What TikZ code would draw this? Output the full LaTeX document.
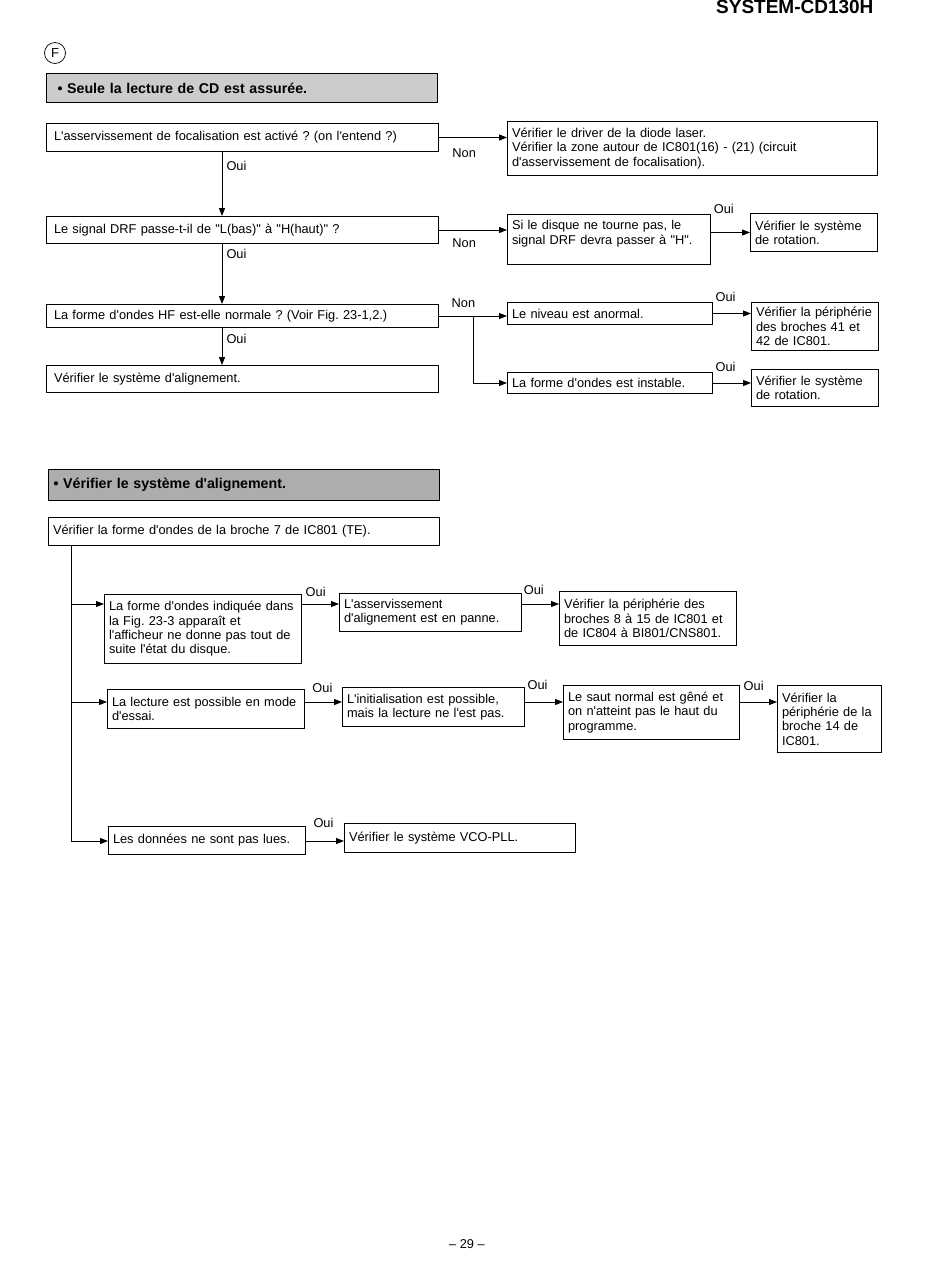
\documentclass[tikz,border=0pt]{standalone}
\usepackage{fontspec}
\setmainfont{Liberation Sans}[Ligatures=TeXOff]
\usetikzlibrary{arrows.meta,positioning}
\frenchspacing

\begin{document}
\begin{tikzpicture}[
   x=1pt, y=-1pt, font=\fontsize{12.8}{14.3}\selectfont,
   box/.style={draw, line width=1pt, anchor=north west, align=left, inner xsep=4.5pt, inner ysep=2pt},
   qbox/.style={box, inner xsep=7.5pt},
   head/.style={box, fill=black!20, font=\fontsize{14.2}{16}\selectfont\bfseries},
   arr/.style={-{Triangle[length=8pt,width=6pt]}, line width=1pt},
   wire/.style={line width=1pt},
   lbl/.style={inner sep=1pt}]

  \useasboundingbox (0,0) rectangle (950,1278);

  \node[anchor=base east, font=\fontsize{19}{20}\selectfont\bfseries] (model) at (877,13.5) {SYSTEM-CD130H};
  \node[circle, draw, line width=0.7pt, minimum size=21pt, inner sep=0pt, font=\fontsize{13}{14}\selectfont] (secF) at (55,53) {F};

  % Seule la lecture de CD
  \node[head, text width=369pt, inner xsep=11pt, minimum height=29pt] (hd1) at (46,73) {• Seule la lecture de CD est assurée.};

  \node[qbox, text width=377pt, minimum height=28pt] (q1) at (46,123) {L'asservissement de focalisation est activé ? (on l'entend ?)};
  \node[qbox, text width=377pt, minimum height=27pt] (q2) at (46,216) {Le signal DRF passe-t-il de "L(bas)" à "H(haut)" ?};
  \node[qbox, text width=377pt, minimum height=23pt] (q3) at (46,304) {La forme d'ondes HF est-elle normale ? (Voir Fig. 23-1,2.)};
  \node[qbox, text width=377pt, minimum height=27pt] (q4) at (46,365) {Vérifier le système d'alignement.};

  \node[box, text width=361pt, minimum height=54pt] (a1) at (507,121) {Vérifier le driver de la diode laser.\\Vérifier la zone autour de IC801(16) - (21) (circuit\\d'asservissement de focalisation).};
  \node[box, text width=194pt, minimum height=50pt] (a2) at (507,214) {Si le disque ne tourne pas, le\\signal DRF devra passer à "H".\\\mbox{}};
  \node[box, text width=118pt, minimum height=38pt] (a3) at (750,213) {Vérifier le système\\de rotation.};
  \node[box, text width=196pt, minimum height=22pt] (a4) at (507,302) {Le niveau est anormal.};
  \node[box, text width=196pt, minimum height=21pt] (a5) at (507,372) {La forme d'ondes est instable.};
  \node[box, text width=118pt, minimum height=48pt] (a6) at (751,302) {Vérifier la périphérie\\des broches 41 et\\42 de IC801.};
  \node[box, text width=118pt, minimum height=37pt] (a7) at (751,369) {Vérifier le système\\de rotation.};

  \coordinate (spine) at (222,0);
  \coordinate (fork) at (473,0);
  \draw[arr] (q1.east) -- (q1.east -| a1.west) node[lbl, below=10pt, pos=.37] {Non};
  \draw[arr] (q1.south -| spine) -- (q2.north -| spine) node[lbl, right=3pt, pos=.22] {Oui};
  \draw[arr] (q2.east) -- (q2.east -| a2.west) node[lbl, below=7pt, pos=.37] {Non};
  \draw[arr] (a3.west -| a2.east) -- (a3.west) node[lbl, above=17pt, pos=.33] {Oui};
  \draw[arr] (q2.south -| spine) -- (q3.north -| spine) node[lbl, right=3pt, pos=.16] {Oui};
  \draw[arr] (q3.east) -- (q3.east -| a4.west) node[lbl, above=7pt, pos=.36] {Non};
  \draw[arr] (q3.east -| fork) |- (a5.west);
  \draw[arr] (a4.east) -- (a4.east -| a6.west) node[lbl, above=10pt, pos=.33] {Oui};
  \draw[arr] (a5.east) -- (a5.east -| a7.west) node[lbl, above=10pt, pos=.33] {Oui};
  \draw[arr] (q3.south -| spine) -- (q4.north -| spine) node[lbl, right=3pt, pos=.29] {Oui};

  % Vérifier le système d'alignement
  \node[head, fill=black!32, text width=381pt, inner xsep=5pt, minimum height=31pt] (hd2) at (48,469) {• Vérifier le système d'alignement.};

  \node[box, text width=382pt, minimum height=28pt] (b0) at (48,517) {Vérifier la forme d'ondes de la broche 7 de IC801 (TE).};

  \node[box, text width=188pt, minimum height=69pt] (c1) at (104,594) {La forme d'ondes indiquée dans\\la Fig. 23-3 apparaît et\\l'afficheur ne donne pas tout de\\suite l'état du disque.};
  \node[box, text width=173pt, minimum height=38pt] (d1) at (339,593) {L'asservissement\\d'alignement est en panne.};
  \node[box, text width=168pt, minimum height=54pt] (e1) at (559,591) {Vérifier la périphérie des\\broches 8 à 15 de IC801 et\\de IC804 à BI801/CNS801.};
  \node[box, text width=188pt, minimum height=39pt] (c2) at (107,689) {La lecture est possible en mode\\d'essai.};
  \node[box, text width=173pt, minimum height=39pt] (d2) at (342,687) {L'initialisation est possible,\\mais la lecture ne l'est pas.};
  \node[box, text width=167pt, minimum height=54pt] (e2) at (563,685) {Le saut normal est gêné et\\on n'atteint pas le haut du\\programme.};
  \node[box, text width=95pt, minimum height=67pt] (f2) at (777,685) {Vérifier la\\périphérie de la\\broche 14 de\\IC801.};
  \node[box, text width=188pt, minimum height=28pt] (c3) at (108,826) {Les données ne sont pas lues.};
  \node[box, text width=222pt, minimum height=29pt] (d3) at (344,823) {Vérifier le système VCO-PLL.};

  \coordinate (r1) at (71,604);
  \coordinate (r2) at (71,702);
  \coordinate (r3) at (71,841);
  \draw[wire] (b0.south -| r1) -- (r3);
  \draw[arr] (r1) -- (r1 -| c1.west);
  \draw[arr] (r1 -| c1.east) -- (r1 -| d1.west) node[lbl, above=6pt, pos=.37] {Oui};
  \draw[arr] (r1 -| d1.east) -- (r1 -| e1.west) node[lbl, above=8pt, pos=.32] {Oui};
  \draw[arr] (r2) -- (r2 -| c2.west);
  \draw[arr] (r2 -| c2.east) -- (r2 -| d2.west) node[lbl, above=8pt, pos=.47] {Oui};
  \draw[arr] (r2 -| d2.east) -- (r2 -| e2.west) node[lbl, above=11pt, pos=.33] {Oui};
  \draw[arr] (r2 -| e2.east) -- (r2 -| f2.west) node[lbl, above=10pt, pos=.37] {Oui};
  \draw[arr] (r3) -- (r3 -| c3.west);
  \draw[arr] (r3 -| c3.east) -- (r3 -| d3.west) node[lbl, above=12pt, pos=.46] {Oui};

  \node (pageno) at (467,1244) {– 29 –};
\end{tikzpicture}
\end{document}
